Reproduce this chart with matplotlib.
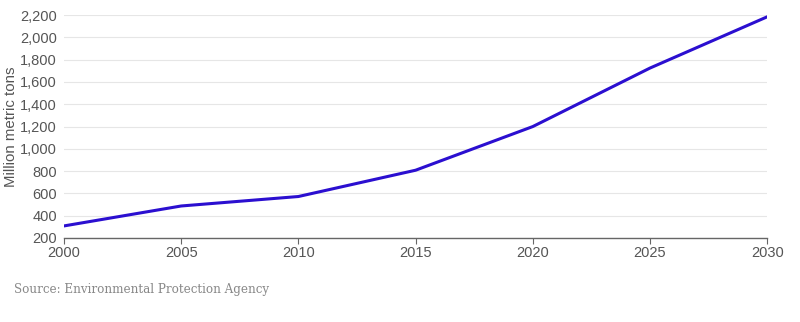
import numpy as np
import matplotlib.pyplot as plt
from matplotlib.ticker import FuncFormatter

# values
years = [2000, 2005, 2010, 2015, 2020, 2025, 2030]
tons = [308, 487, 572, 808, 1200, 1725, 2185]
y_ticks = [200, 400, 600, 800, 1000, 1200, 1400, 1600, 1800, 2000, 2200]
x_ticks = [2000, 2005, 2010, 2015, 2020, 2025, 2030]

fig = plt.figure(figsize=(8, 3.22), dpi=100)
ax = fig.add_axes([0.08, 0.261, 0.879, 0.692])

ax.plot(years, tons, color='#2b0fd0', linewidth=2.2, solid_capstyle='round')

ax.set_xlim(2000, 2030)
ax.set_ylim(200, 2200)
ax.set_yticks(y_ticks)
ax.set_xticks(x_ticks)
ax.yaxis.set_major_formatter(FuncFormatter(lambda v, p: '{:,.0f}'.format(v)))

ax.grid(axis='y', color='#e6e6e6', linewidth=0.8)
ax.set_axisbelow(True)
for s in ['top', 'right', 'left']:
    ax.spines[s].set_visible(False)
ax.spines['bottom'].set_color('#666666')
ax.spines['bottom'].set_linewidth(1.0)

ax.tick_params(axis='y', length=0, pad=5, labelsize=10.5, labelcolor='#555555')
ax.tick_params(axis='x', length=4, width=0.8, color='#666666', pad=2,
               labelsize=10.5, labelcolor='#555555')
for lab in ax.get_yticklabels() + ax.get_xticklabels():
    lab.set_family('Liberation Sans')

ax.set_ylabel('Million metric tons', fontsize=10.8, color='#555555', family='Liberation Sans')
ax.yaxis.set_label_coords(-0.066, 0.5)

fig.text(0.017, 0.1, 'Source: Environmental Protection Agency', family='serif',
         fontsize=8.6, color='#888888', va='center')

fig.savefig('out.png', dpi=100)
